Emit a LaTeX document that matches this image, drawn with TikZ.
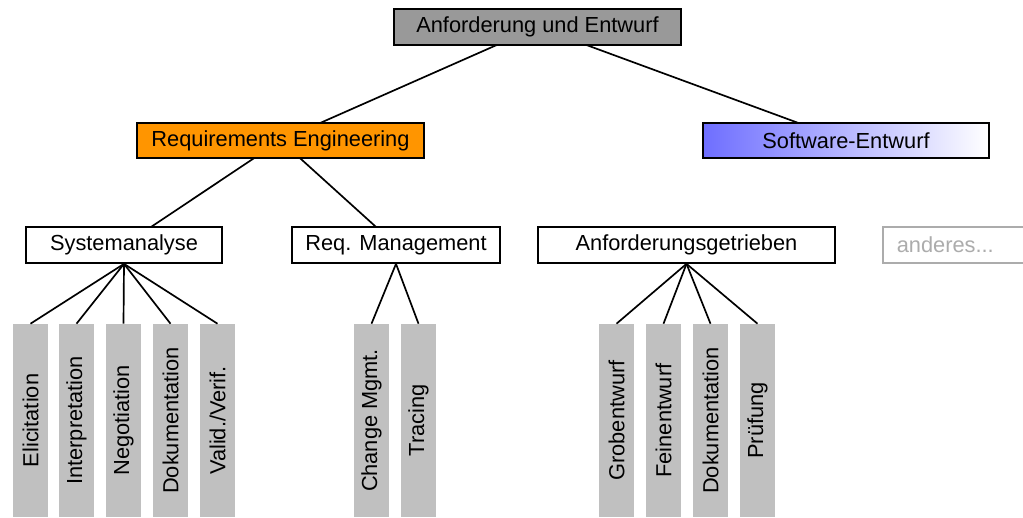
\documentclass[tikz,border=0pt]{standalone}
\usepackage{fontspec}
\setmainfont{Liberation Sans}
\usepackage{graphicx}
\usetikzlibrary{backgrounds}
\definecolor{topgray}{RGB}{153,153,153}
\definecolor{reorange}{RGB}{255,149,0}
\definecolor{swblue}{RGB}{110,110,255}
\definecolor{leafgray}{RGB}{192,192,192}
\definecolor{othergray}{RGB}{172,172,172}
\begin{document}
\begin{tikzpicture}[
  x=0.025cm, y=-0.025cm,
  every node/.style={font=\fontsize{15.5}{18}\selectfont},
  box/.style={draw, line width=1.2pt, fill=white, minimum height=0.9cm, inner sep=0pt},
  leaf/.style={fill=leafgray, minimum width=0.875cm, minimum height=4.825cm, inner sep=0pt},
  link/.style={line width=1.2pt}
]
  \useasboundingbox (0,0) rectangle (1023,518);
  % upper levels
  \node[box, fill=topgray, minimum width=7.175cm] (root) at (537.5,27) {Anforderung und Entwurf};
  \node[box, fill=reorange, minimum width=7.175cm, minimum height=0.875cm] (reqeng) at (280.5,140.5) {Requirements Engineering};
  \node[box, left color=swblue, right color=white, minimum width=7.15cm, minimum height=0.875cm] (swent) at (846,140.5) {Software-Entwurf};
  \node[box, minimum width=4.9cm] (sysana) at (124,245) {Systemanalyse};
  \node[box, minimum width=5.2cm] (reqmgmt) at (396,245) {Req. Management};
  \node[box, minimum width=7.425cm] (anfget) at (686.5,245) {Anforderungsgetrieben};
  \node[box, draw=othergray, text=othergray, anchor=west, text width=3.5cm, align=left, inner xsep=0.35cm] (other) at (882,245) {anderes...};
  % leaves
  \node[leaf] (elic) at (30.5,420.5) {\rotatebox{90}{Elicitation}};
  \node[leaf] (interp) at (76.5,420.5) {\rotatebox{90}{Interpretation}};
  \node[leaf] (nego) at (123.5,420.5) {\rotatebox{90}{Negotiation}};
  \node[leaf] (doku) at (170.5,420.5) {\rotatebox{90}{Dokumentation}};
  \node[leaf] (valid) at (217.5,420.5) {\rotatebox{90}{Valid./Verif.}};
  \node[leaf] (change) at (371.5,420.5) {\rotatebox{90}{Change Mgmt.}};
  \node[leaf] (tracing) at (418.5,420.5) {\rotatebox{90}{Tracing}};
  \node[leaf] (grob) at (616.5,420.5) {\rotatebox{90}{Grobentwurf}};
  \node[leaf] (fein) at (663.5,420.5) {\rotatebox{90}{Feinentwurf}};
  \node[leaf] (swdoku) at (710.5,420.5) {\rotatebox{90}{Dokumentation}};
  \node[leaf] (pruef) at (757.5,420.5) {\rotatebox{90}{Prüfung}};
  % connectors
  \begin{scope}[on background layer]
    \draw[link] (root.center) -- (reqeng.center);
    \draw[link] (root.center) -- (swent.center);
    \draw[link] (reqeng.center) -- (sysana.center);
    \draw[link] (reqeng.center) -- (reqmgmt.center);
  \end{scope}
  \draw[link] (sysana.south) -- (elic.north);
  \draw[link] (sysana.south) -- (interp.north);
  \draw[link] (sysana.south) -- (nego.north);
  \draw[link] (sysana.south) -- (doku.north);
  \draw[link] (sysana.south) -- (valid.north);
  \draw[link] (reqmgmt.south) -- (change.north);
  \draw[link] (reqmgmt.south) -- (tracing.north);
  \draw[link] (anfget.south) -- (grob.north);
  \draw[link] (anfget.south) -- (fein.north);
  \draw[link] (anfget.south) -- (swdoku.north);
  \draw[link] (anfget.south) -- (pruef.north);
\end{tikzpicture}
\end{document}
